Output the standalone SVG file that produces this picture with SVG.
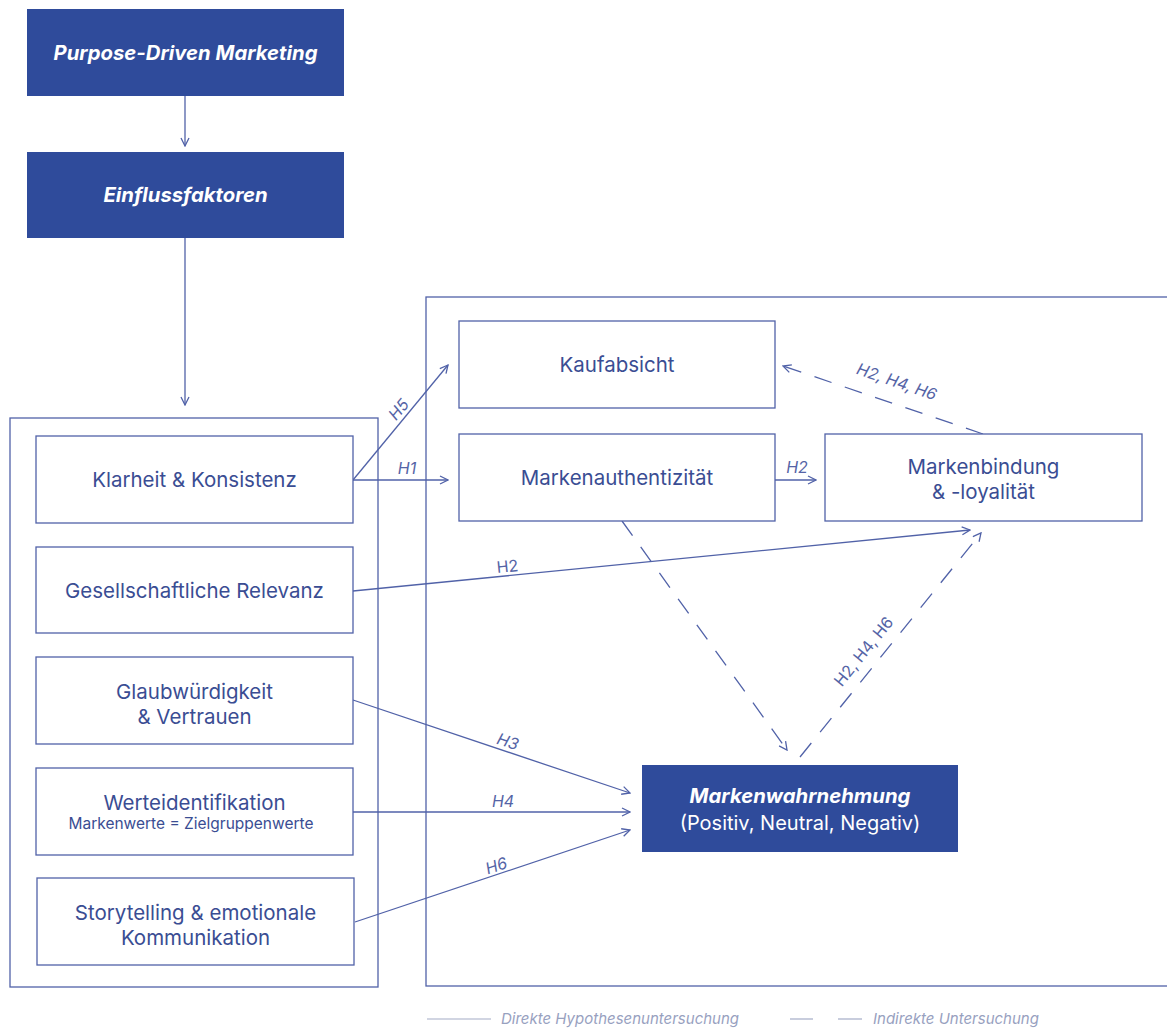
<svg xmlns="http://www.w3.org/2000/svg" width="1167" height="1028" viewBox="0 0 1167 1028">
  <style>
    .dark { fill: #2f4b9b; }
    .box { fill: #ffffff; stroke: #5162a8; stroke-width: 1.3; }
    .frame { fill: none; stroke: #5162a8; stroke-width: 1.3; }
    .head { font-family: Inter, "Liberation Sans", sans-serif; font-size: 20.3px; font-weight: 700; font-style: italic; fill: #ffffff; text-anchor: middle; }
    .lbl { font-family: Inter, "Liberation Sans", sans-serif; font-size: 20.5px; fill: #3a4d93; text-anchor: middle; }
    .small { font-family: Inter, "Liberation Sans", sans-serif; font-size: 15.5px; fill: #3a4d93; text-anchor: middle; }
    .wlbl { font-family: Inter, "Liberation Sans", sans-serif; font-size: 20px; fill: #ffffff; text-anchor: middle; }
    .hyp { font-family: Inter, "Liberation Sans", sans-serif; font-size: 16px; font-style: italic; fill: #5564a6; text-anchor: middle; }
    .hypn { font-family: Inter, "Liberation Sans", sans-serif; font-size: 16px; fill: #5564a6; text-anchor: middle; }
    .leg { font-family: Inter, "Liberation Sans", sans-serif; font-size: 15px; font-style: italic; fill: #98a1bf; }
    .edge { fill: none; stroke: #5162a8; stroke-width: 1.3; }
    .dash { stroke-dasharray: 18 14; }
  </style>
  <defs>
    <marker id="arrow" viewBox="0 0 10 10" refX="9" refY="5" markerWidth="10" markerHeight="10" markerUnits="userSpaceOnUse" orient="auto">
      <path d="M1,1 L9,5 L1,9" fill="none" stroke="#5162a8" stroke-width="1.3"/>
    </marker>
  </defs>

  <rect width="1167" height="1028" fill="#ffffff"/>

  <!-- containers -->
  <rect id="frame-factors" class="frame" x="10" y="418" width="368" height="569"/>
  <rect id="frame-effects" class="frame" x="426" y="297" width="760" height="689"/>

  <!-- connectors -->
  <g id="connectors">
    <line class="edge" x1="185" y1="96" x2="185" y2="146" marker-end="url(#arrow)"/>
    <line class="edge" x1="185" y1="238" x2="185" y2="405" marker-end="url(#arrow)"/>
    <!-- H5 / H1 from Klarheit -->
    <line class="edge" x1="353" y1="480" x2="448" y2="365" marker-end="url(#arrow)"/>
    <line class="edge" x1="353" y1="480" x2="448" y2="480" marker-end="url(#arrow)"/>
    <!-- H2 Authentizität -> Bindung -->
    <line class="edge" x1="775" y1="480" x2="816" y2="480" marker-end="url(#arrow)"/>
    <!-- H2 Relevanz -> Bindung -->
    <line class="edge" x1="353" y1="591" x2="970" y2="530" marker-end="url(#arrow)"/>
    <!-- H3, H4, H6 -> Wahrnehmung -->
    <line class="edge" x1="353" y1="700" x2="630" y2="793" marker-end="url(#arrow)"/>
    <line class="edge" x1="353" y1="812" x2="630" y2="812" marker-end="url(#arrow)"/>
    <line class="edge" x1="355" y1="922" x2="630" y2="830" marker-end="url(#arrow)"/>
    <!-- indirect paths -->
    <line class="edge dash" x1="983" y1="434" x2="783" y2="366" marker-end="url(#arrow)"/>
    <line class="edge dash" x1="622" y1="521" x2="787" y2="750" marker-end="url(#arrow)"/>
    <line class="edge dash" x1="800" y1="757" x2="981" y2="533" marker-end="url(#arrow)"/>

    <text class="hyp" transform="translate(403,413) rotate(-50)">H5</text>
    <text class="hyp" x="407" y="474">H1</text>
    <text class="hyp" x="797" y="473">H2</text>
    <text class="hypn" transform="translate(508,572) rotate(-5.6)">H2</text>
    <text class="hyp" transform="translate(506,747) rotate(18.5)">H3</text>
    <text class="hyp" x="503" y="807">H4</text>
    <text class="hyp" transform="translate(498,871) rotate(-18.5)">H6</text>
    <text class="hyp" transform="translate(895,387) rotate(18.8)">H2, H4, H6</text>
    <text class="hypn" transform="translate(868,655) rotate(-51)">H2, H4, H6</text>
  </g>

  <!-- top chain -->
  <g id="purpose-driven-marketing">
    <rect class="dark" x="27" y="9" width="317" height="87"/>
    <text class="head" x="185.5" y="60">Purpose-Driven Marketing</text>
  </g>
  <g id="einflussfaktoren">
    <rect class="dark" x="27" y="152" width="317" height="86"/>
    <text class="head" x="185.5" y="202">Einflussfaktoren</text>
  </g>

  <!-- influence factors -->
  <g id="klarheit">
    <rect class="box" x="36" y="436" width="317" height="87"/>
    <text class="lbl" x="194.5" y="487">Klarheit &amp; Konsistenz</text>
  </g>
  <g id="relevanz">
    <rect class="box" x="36" y="547" width="317" height="86"/>
    <text class="lbl" x="194.5" y="598">Gesellschaftliche Relevanz</text>
  </g>
  <g id="glaubwuerdigkeit">
    <rect class="box" x="36" y="657" width="317" height="87"/>
    <text class="lbl" x="194.5" y="699">Glaubwürdigkeit</text>
    <text class="lbl" x="194.5" y="724">&amp; Vertrauen</text>
  </g>
  <g id="werteidentifikation">
    <rect class="box" x="36" y="768" width="317" height="87"/>
    <text class="lbl" x="194.5" y="810">Werteidentifikation</text>
    <text class="small" x="191" y="829">Markenwerte = Zielgruppenwerte</text>
  </g>
  <g id="storytelling">
    <rect class="box" x="37" y="878" width="317" height="87"/>
    <text class="lbl" x="195.5" y="920">Storytelling &amp; emotionale</text>
    <text class="lbl" x="195.5" y="945">Kommunikation</text>
  </g>

  <!-- outcomes -->
  <g id="kaufabsicht">
    <rect class="box" x="459" y="321" width="316" height="87"/>
    <text class="lbl" x="617" y="372">Kaufabsicht</text>
  </g>
  <g id="markenauthentizitaet">
    <rect class="box" x="459" y="434" width="316" height="87"/>
    <text class="lbl" x="617" y="485">Markenauthentizität</text>
  </g>
  <g id="markenbindung">
    <rect class="box" x="825" y="434" width="317" height="87"/>
    <text class="lbl" x="983.5" y="474">Markenbindung</text>
    <text class="lbl" x="983.5" y="499">&amp; -loyalität</text>
  </g>
  <g id="markenwahrnehmung">
    <rect class="dark" x="642" y="765" width="316" height="87"/>
    <text class="head" x="800" y="803">Markenwahrnehmung</text>
    <text class="wlbl" x="800" y="830">(Positiv, Neutral, Negativ)</text>
  </g>

  <!-- legend -->
  <g id="legend">
    <line x1="427" y1="1019" x2="491" y2="1019" stroke="#a3abc6" stroke-width="1.2"/>
    <text class="leg" x="501" y="1024">Direkte Hypothesenuntersuchung</text>
    <line x1="790" y1="1019" x2="813" y2="1019" stroke="#a3abc6" stroke-width="1.2"/>
    <line x1="838" y1="1019" x2="862" y2="1019" stroke="#a3abc6" stroke-width="1.2"/>
    <text class="leg" x="873" y="1024">Indirekte Untersuchung</text>
  </g>
</svg>
